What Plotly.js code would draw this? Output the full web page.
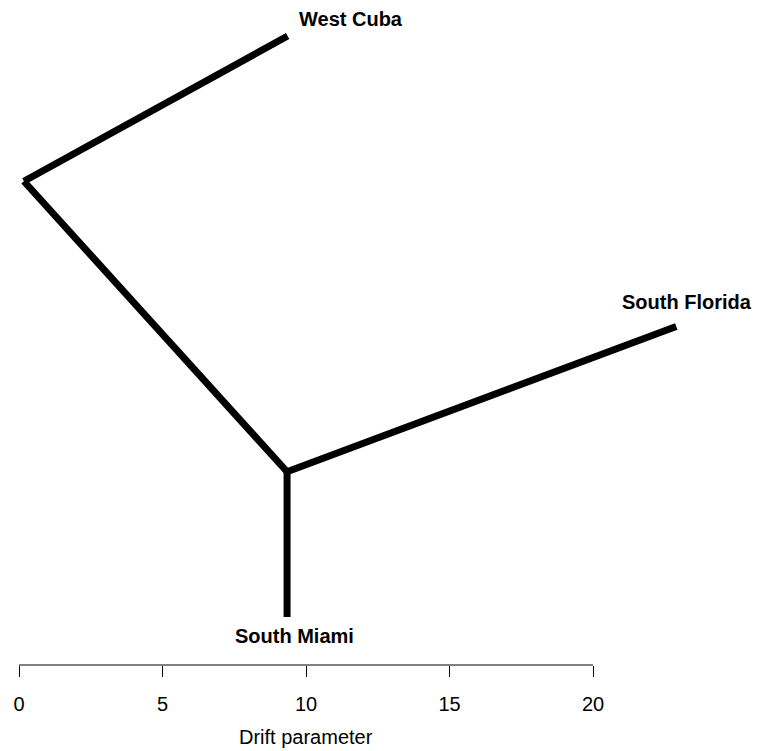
<!DOCTYPE html>
<html>
<head>
<meta charset="utf-8">
<script src="https://cdn.plot.ly/plotly-3.0.1.min.js"></script>
<style>html,body{margin:0;padding:0;background:#fff;}#chart{width:758px;height:751px;}</style>
</head>
<body>
<div id="chart"></div>
<script>
// Tree nodes: drift (x) and vertical order (y)
const nodeNames = ["root", "West Cuba", "junction", "South Florida", "South Miami"];
const nodeDrift = [0.17, 9.36, 9.34, 22.9, 9.34];
const nodeOrder = [3, 4, 1, 2, 0];
// Edges as parent -> child indices
const edgeFrom = [0, 0, 2, 2];
const edgeTo   = [1, 2, 3, 4];
// Leaf labels
const leafNames = ["West Cuba", "South Florida", "South Miami"];
const tickVals = [0, 5, 10, 15, 20];
const tickText = ["0", "5", "10", "15", "20"];
const axisTitle = "Drift parameter";

const xs = [], ys = [];
for (let i = 0; i < edgeFrom.length; i++) {
  xs.push(nodeDrift[edgeFrom[i]], nodeDrift[edgeTo[i]], null);
  ys.push(nodeOrder[edgeFrom[i]], nodeOrder[edgeTo[i]], null);
}

const FONT = "Liberation Sans, Arial, sans-serif";
const labelShift = {"West Cuba": [63, 17], "South Florida": [11, 25], "South Miami": [7, -19]};
const annotations = leafNames.map(n => {
  const k = nodeNames.indexOf(n);
  return {
    x: nodeDrift[k], y: nodeOrder[k], xref: "x", yref: "y",
    text: "<b>" + n + "</b>", showarrow: false,
    xshift: labelShift[n][0], yshift: labelShift[n][1],
    font: {family: FONT, size: 20, color: "#000"}
  };
});
annotations.push({
  x: (tickVals[0] + tickVals[tickVals.length-1]) / 2, y: 0, xref: "x", yref: "paper",
  yanchor: "middle", yshift: -72, text: axisTitle, showarrow: false,
  font: {family: FONT, size: 20, color: "#000"}
});

const trace = {
  x: xs, y: ys, mode: "lines", type: "scatter",
  line: {color: "#000", width: 7},
  hoverinfo: "skip", showlegend: false, connectgaps: false
};

const layout = {
  width: 758, height: 751,
  margin: {l: 10, r: 10, t: 0, b: 86, pad: 0},
  paper_bgcolor: "#fff", plot_bgcolor: "#fff",
  showlegend: false,
  xaxis: {
    range: [-9/28.7, 729/28.7],
    showgrid: false, zeroline: false, showline: false,
    tickmode: "array", tickvals: tickVals, ticktext: tickText,
    ticks: "outside", ticklen: 11, tickwidth: 1, tickcolor: "#000",
    ticklabelstandoff: 10,
    tickfont: {family: FONT, size: 20, color: "#000"},
    fixedrange: true
  },
  yaxis: {
    range: [-48/145.25, 4 + 36/145.25],
    visible: false, showgrid: false, zeroline: false, fixedrange: true
  },
  shapes: [{type: "line", xref: "x", yref: "paper", x0: tickVals[0], x1: tickVals[tickVals.length-1], y0: 0, y1: 0,
            line: {color: "#000", width: 1}}],
  annotations: annotations
};

Plotly.newPlot("chart", [trace], layout, {displayModeBar: false, staticPlot: true});
</script>
</body>
</html>
